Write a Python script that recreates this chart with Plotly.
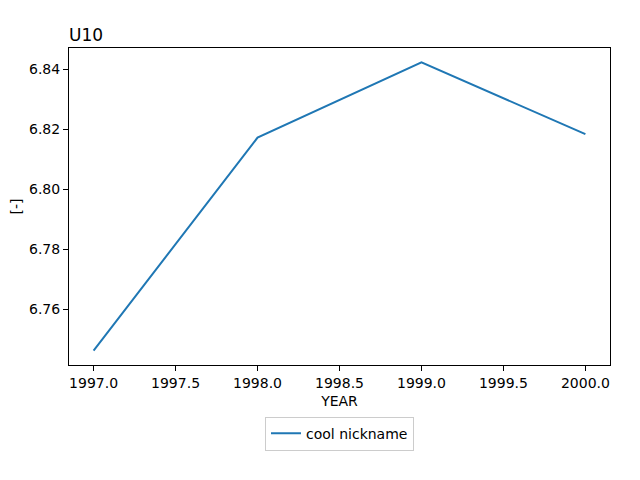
import plotly.graph_objects as go

years = [1997, 1998, 1999, 2000]
u10 = [6.7462, 6.8172, 6.8423, 6.8184]
series_name = "cool nickname"
x_ticks = [1997.0, 1997.5, 1998.0, 1998.5, 1999.0, 1999.5, 2000.0]
y_ticks = [6.76, 6.78, 6.80, 6.82, 6.84]

fig = go.Figure()
fig.add_trace(go.Scatter(x=years, y=u10, mode="lines", name=series_name,
                         line=dict(color="#1f77b4", width=2), showlegend=True))

font = "DejaVu Sans, sans-serif"
fig.update_layout(
    width=640, height=480,
    margin=dict(l=61, r=38, t=40, b=123, autoexpand=False),
    plot_bgcolor="white", paper_bgcolor="white",
    font=dict(family=font, size=14, color="black"),
    title=dict(text="U10", x=61/640, xanchor="left", y=1-27/480, yanchor="middle",
               font=dict(size=17, family=font, color="black")),
    xaxis=dict(range=[1996.85, 2000.15], tickvals=x_ticks,
               ticktext=[f"{v:.1f}" for v in x_ticks], automargin=False,
               showgrid=False, zeroline=False, showline=True, linecolor="black",
               linewidth=1, mirror=True, ticks="outside", ticklen=5, tickcolor="black",
               tickfont=dict(size=14),
               title=dict(text="YEAR", standoff=6, font=dict(size=14))),
    yaxis=dict(range=[6.7414, 6.8471], tickvals=y_ticks,
               ticktext=[f"{v:.2f}" for v in y_ticks], automargin=False,
               showgrid=False, zeroline=False, showline=True, linecolor="black",
               linewidth=1, mirror=True, ticks="outside", ticklen=5, tickcolor="black",
               tickfont=dict(size=14),
               title=dict(text="[-]", standoff=10, font=dict(size=14))),
    legend=dict(orientation="h", x=0.5, xanchor="center", y=-0.163, yanchor="top",
                bordercolor="#cccccc", borderwidth=1, font=dict(size=14)),
)
fig.write_html("out.html")
